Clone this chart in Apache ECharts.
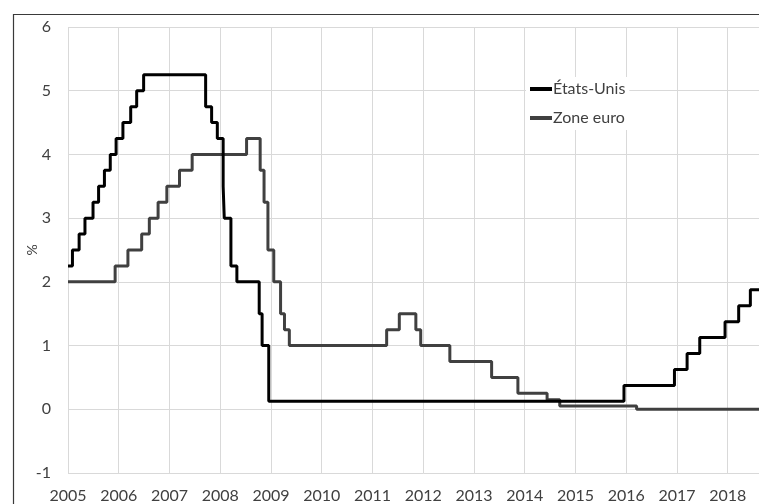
<!DOCTYPE html>
<html>
<head>
<meta charset="utf-8">
<script src="https://cdn.jsdelivr.net/npm/echarts@6/dist/echarts.min.js"></script>
<style>html,body{margin:0;padding:0;background:#fff;overflow:hidden;width:759px;height:504px}#c{width:800px;height:504px}</style>
</head>
<body>
<div id="c"></div>
<script>
// Fed funds target (midpoint of range after Dec 2008), %
const usDates = ['2005-01-01','2005-02-02','2005-03-22','2005-05-03','2005-06-30','2005-08-09','2005-09-20','2005-11-01','2005-12-13','2006-01-31','2006-03-28','2006-05-10','2006-06-29','2007-09-18','2007-10-31','2007-12-11','2008-01-22','2008-01-30','2008-03-18','2008-04-30','2008-10-08','2008-10-29','2008-12-16','2015-12-16','2016-12-14','2017-03-15','2017-06-14','2017-12-13','2018-03-21','2018-06-13','2018-08-31'];
const usValues = [2.25,2.5,2.75,3.0,3.25,3.5,3.75,4.0,4.25,4.5,4.75,5.0,5.25,4.75,4.5,4.25,3.5,3.0,2.25,2.0,1.5,1.0,0.125,0.375,0.625,0.875,1.125,1.375,1.625,1.875,1.875];
// ECB main refinancing rate, %
const euDates = ['2005-01-01','2005-12-06','2006-03-08','2006-06-15','2006-08-09','2006-10-11','2006-12-13','2007-03-14','2007-06-13','2008-07-09','2008-10-15','2008-11-12','2008-12-10','2009-01-21','2009-03-11','2009-04-08','2009-05-13','2011-04-13','2011-07-13','2011-11-09','2011-12-14','2012-07-11','2013-05-08','2013-11-13','2014-06-11','2014-09-10','2016-03-16','2018-08-31'];
const euValues = [2.0,2.25,2.5,2.75,3.0,3.25,3.5,3.75,4.0,4.25,3.75,3.25,2.5,2.0,1.5,1.25,1.0,1.25,1.5,1.25,1.0,0.75,0.5,0.25,0.15,0.05,0.0,0.0];
const yearLabels = ['2005','2006','2007','2008','2009','2010','2011','2012','2013','2014','2015','2016','2017','2018','2019'];
const yTicks = [-1,0,1,2,3,4,5,6];
const seriesNames = ['États-Unis','Zone euro'];

function toYear(s){
  const [y,m,d] = s.split('-').map(Number);
  const start = Date.UTC(y,0,1), end = Date.UTC(y+1,0,1);
  return y + (Date.UTC(y,m-1,d) - start)/(end - start);
}
const usData = usDates.map((d,i)=>[toYear(d), usValues[i]]);
const euData = euDates.map((d,i)=>[toYear(d), euValues[i]]);

const font = 'Lato, "Open Sans", sans-serif';
const chart = echarts.init(document.getElementById('c'), null, {renderer:'canvas'});
chart.setOption({
  animation:false,
  backgroundColor:'#fff',
  graphic:[{type:'rect', shape:{x:13.5,y:14.5,width:900,height:900}, style:{fill:'none', stroke:'#3a3a3a', lineWidth:1.2}, z:100}],
  grid:{left:68, right:12, top:27, bottom:30, containLabel:false},
  legend:{
    orient:'vertical', left:526, top:77, itemWidth:22, itemHeight:4, itemGap:13,
    backgroundColor:'#fff', padding:[4,4,4,4],
    textStyle:{fontFamily:font, fontSize:16, color:'#404040', padding:[0,0,0,-4], lineHeight:16},
    data:seriesNames.map(n=>({name:n, icon:'rect'})),
  },
  xAxis:{
    type:'value', min:2005, max:2019, interval:1,
    axisLine:{show:false}, axisTick:{show:false},
    axisLabel:{fontFamily:font, fontSize:16, color:'#404040', margin:15,
      formatter:v=>yearLabels[Math.round(v-2005)] || ''},
    splitLine:{show:true, lineStyle:{color:'#d9d9d9', width:1}}
  },
  yAxis:{
    type:'value', min:yTicks[0], max:yTicks[yTicks.length-1], interval:1,
    name:'%', nameLocation:'middle', nameGap:29, nameRotate:90, nameMoveOverlap:false,
    nameTextStyle:{fontFamily:font, fontSize:14, color:'#404040'},
    axisLine:{show:false}, axisTick:{show:false},
    axisLabel:{fontFamily:font, fontSize:16, color:'#404040', margin:17},
    splitLine:{show:true, lineStyle:{color:'#d9d9d9', width:1}}
  },
  series:[
    {name:seriesNames[0], type:'line', step:'end', data:usData, showSymbol:false, symbol:'none',
     lineStyle:{color:'#000', width:3}, itemStyle:{color:'#000'}, z:3},
    {name:seriesNames[1], type:'line', step:'end', data:euData, showSymbol:false, symbol:'none',
     lineStyle:{color:'#404040', width:3}, itemStyle:{color:'#404040'}, z:2}
  ]
});
</script>
</body>
</html>
